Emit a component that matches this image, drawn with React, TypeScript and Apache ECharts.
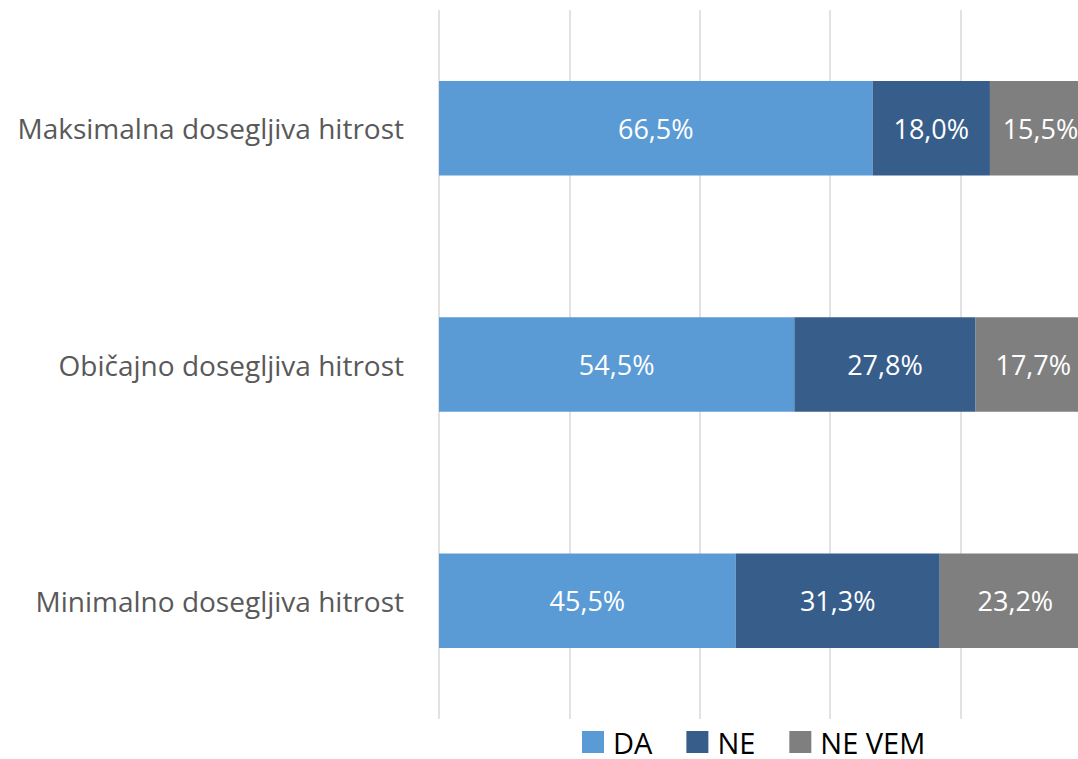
import React, { useEffect, useRef } from "react";
import * as echarts from "echarts";

const categories = ["Maksimalna dosegljiva hitrost", "Običajno dosegljiva hitrost", "Minimalno dosegljiva hitrost"];
const seriesNames = ["DA", "NE", "NE VEM"];
const daValues = [66.5, 54.5, 45.5];
const neValues = [18.0, 27.8, 31.3];
const neVemValues = [15.5, 17.7, 23.2];
const colors = ["#5B9BD5", "#375E8B", "#7F7F7F"];

export default function App() {
  const ref = useRef<HTMLDivElement>(null);
  useEffect(() => {
    if (!ref.current) return;
    const chart = echarts.init(ref.current, undefined, { renderer: "svg" });
    const font = "'Open Sans', sans-serif";
    const mk = (name: string, data: number[], color: string) => ({
      name,
      type: "bar",
      stack: "total",
      barWidth: "40%",
      data,
      itemStyle: { color },
      label: {
        show: true,
        position: "inside",
        color: "#ffffff",
        fontSize: 27,
        fontFamily: font,
        formatter: (p: any) => p.value.toFixed(1).replace(".", ",") + "%",
      },
    });
    chart.setOption({
      animation: false,
      grid: { left: 439, top: 10, width: 652, height: 709, containLabel: false },
      legend: {
        data: seriesNames,
        left: 582,
        top: 727,
        itemWidth: 22,
        itemHeight: 22,
        itemGap: 34,
        icon: "rect",
        padding: 0,
        textStyle: { fontSize: 29, lineHeight: 24, fontFamily: font, color: "#000000", padding: [0, 0, 6, 4] },
      },
      xAxis: {
        type: "value",
        min: 0,
        max: 100,
        interval: 20,
        axisLabel: { show: false },
        axisLine: { show: false },
        axisTick: { show: false },
        splitLine: { show: true, lineStyle: { color: "#D9D9D9", width: 1.5 } },
      },
      yAxis: {
        type: "category",
        data: categories,
        inverse: true,
        axisLine: { show: false },
        axisTick: { show: false },
        axisLabel: { fontSize: 28, fontFamily: font, color: "#595959", margin: 35 },
      },
      series: [
        mk(seriesNames[0], daValues, colors[0]),
        mk(seriesNames[1], neValues, colors[1]),
        mk(seriesNames[2], neVemValues, colors[2]),
      ],
    });
    return () => chart.dispose();
  }, []);
  return (
    <div style={{ position: "fixed", left: 0, top: 0, width: 1078, height: 759, overflow: "hidden", background: "#ffffff" }}>
      <div ref={ref} style={{ position: "absolute", left: 0, top: 0, width: 1100, height: 759 }} />
    </div>
  );
}
